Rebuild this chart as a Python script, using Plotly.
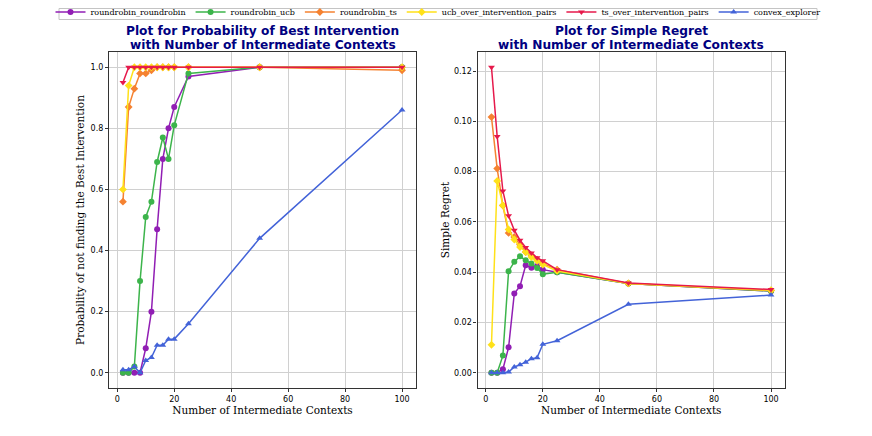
import plotly.graph_objects as go
from plotly.subplots import make_subplots

contexts = [2, 4, 6, 8, 10, 12, 14, 16, 18, 20, 25, 50, 100]

series_names = ["roundrobin_roundrobin", "roundrobin_ucb", "roundrobin_ts",
                "ucb_over_intervention_pairs", "ts_over_intervention_pairs", "convex_explorer"]

# probability of not finding the best intervention
prob_rr_rr = [0.0, 0.0, 0.0, 0.0, 0.08, 0.20, 0.47, 0.70, 0.80, 0.87, 0.97, 1.0, 1.0]
prob_rr_ucb = [0.0, 0.0, 0.02, 0.30, 0.51, 0.56, 0.69, 0.77, 0.70, 0.81, 0.98, 1.0, 1.0]
prob_rr_ts = [0.56, 0.87, 0.93, 0.98, 0.98, 0.99, 1.0, 1.0, 1.0, 1.0, 1.0, 1.0, 0.99]
prob_ucb_pairs = [0.60, 0.94, 1.0, 1.0, 1.0, 1.0, 1.0, 1.0, 1.0, 1.0, 1.0, 1.0, 1.0]
prob_ts_pairs = [0.95, 1.0, 1.0, 1.0, 1.0, 1.0, 1.0, 1.0, 1.0, 1.0, 1.0, 1.0, 1.0]
prob_convex = [0.01, 0.01, 0.02, 0.0, 0.04, 0.05, 0.09, 0.09, 0.11, 0.11, 0.16, 0.44, 0.86]

# simple regret
reg_rr_rr = [0.0, 0.0, 0.0014, 0.0101, 0.0315, 0.0344, 0.0427, 0.0418, 0.0425, 0.0410, 0.0400, 0.0355, 0.0325]
reg_rr_ucb = [0.0, 0.0, 0.0068, 0.0404, 0.0441, 0.0463, 0.0447, 0.0434, 0.0417, 0.0392, 0.0400, 0.0355, 0.0325]
reg_rr_ts = [0.1017, 0.0812, 0.0665, 0.0556, 0.0540, 0.0510, 0.0480, 0.0466, 0.0450, 0.0435, 0.0410, 0.0355, 0.0327]
reg_ucb_pairs = [0.0111, 0.0763, 0.0666, 0.0570, 0.0530, 0.0500, 0.0480, 0.0460, 0.0445, 0.0430, 0.0405, 0.0355, 0.0328]
reg_ts_pairs = [0.1215, 0.0940, 0.0723, 0.0624, 0.0567, 0.0527, 0.0498, 0.0476, 0.0457, 0.0445, 0.0410, 0.0357, 0.0331]
reg_convex = [0.0, 0.0, 0.0, 0.0003, 0.0023, 0.0032, 0.0042, 0.0056, 0.0060, 0.0113, 0.0127, 0.0272, 0.0309]

colors = ["#911eb4", "#3cb44b", "#f58231", "#ffe119", "#e6194b", "#4363d8"]
symbols = ["circle", "circle", "diamond", "diamond", "triangle-down", "triangle-up"]

prob_series = [prob_rr_rr, prob_rr_ucb, prob_rr_ts, prob_ucb_pairs, prob_ts_pairs, prob_convex]
reg_series = [reg_rr_rr, reg_rr_ucb, reg_rr_ts, reg_ucb_pairs, reg_ts_pairs, reg_convex]

# figure is drawn 8px in from the page corner, so work in figure pixels
W, H = 864, 428


def px_x(x):
    return x / W


def px_y(y):
    return 1 - y / H


fig = make_subplots(rows=1, cols=2)

for i, name in enumerate(series_names):
    for col, data in ((1, prob_series[i]), (2, reg_series[i])):
        fig.add_trace(go.Scatter(
            x=contexts, y=data, name=name, mode="lines+markers",
            line=dict(color=colors[i], width=1.5),
            marker=dict(symbol=symbols[i], size=6, color=colors[i]),
            legendgroup=name, showlegend=(col == 1),
        ), row=1, col=col)

axis_font = dict(family="DejaVu Serif", size=10.5, color="black")
tick_font = dict(family="DejaVu Sans", size=8, color="black")
common = dict(showline=True, mirror=True, linecolor="#333333", linewidth=1.2,
              showgrid=True, gridcolor="#d0d0d0", gridwidth=1, zeroline=False,
              ticks="outside", ticklen=3, tickcolor="#333333", tickfont=tick_font,
              automargin=False)

fig.update_xaxes(common)
fig.update_yaxes(common)

y_dom = [px_y(380), px_y(44)]
fig.update_xaxes(domain=[px_x(101), px_x(408)], range=[-2.9, 104.9], tickvals=[0, 20, 40, 60, 80, 100],
                 title=dict(text="Number of Intermediate Contexts", font=axis_font, standoff=2), row=1, col=1)
fig.update_xaxes(domain=[px_x(469.5), px_x(777)], range=[-2.9, 104.9], tickvals=[0, 20, 40, 60, 80, 100],
                 title=dict(text="Number of Intermediate Contexts", font=axis_font, standoff=2), row=1, col=2)
fig.update_yaxes(domain=y_dom, range=[-0.05, 1.05],
                 tickvals=[0, 0.2, 0.4, 0.6, 0.8, 1.0], tickformat=".1f",
                 title=dict(text="Probability of not finding the Best Intervention", font=axis_font, standoff=3),
                 row=1, col=1)
fig.update_yaxes(domain=y_dom, range=[-0.00608, 0.12758],
                 tickvals=[0, 0.02, 0.04, 0.06, 0.08, 0.10, 0.12], tickformat=".2f",
                 title=dict(text="Simple Regret", font=axis_font, standoff=2),
                 row=1, col=2)

title_font = dict(family="DejaVu Sans", size=12.2, color="#000080")
titles = [
    (254.5, "Plot for Probability of Best Intervention", "with Number of Intermediate Contexts"),
    (623, "Plot for Simple Regret", "with Number of Intermediate Contexts"),
]
for cx, line1, line2 in titles:
    for cy, txt in ((22.5, line1), (37, line2)):
        fig.add_annotation(text="<b>" + txt + "</b>", x=px_x(cx), y=px_y(cy), xref="paper", yref="paper",
                           xanchor="center", yanchor="middle", showarrow=False, font=title_font)

# legend frame
fig.add_shape(type="rect", xref="paper", yref="paper",
              x0=px_x(51), x1=px_x(809), y0=px_y(11.5), y1=px_y(0.5),
              line=dict(color="#c4c4c4", width=1), fillcolor="rgba(0,0,0,0)")

fig.update_layout(
    width=W, height=H,
    margin=dict(l=0, r=0, t=0, b=0, autoexpand=False),
    plot_bgcolor="white", paper_bgcolor="white",
    legend=dict(orientation="h", x=px_x(430), xanchor="center", y=px_y(-10.5), yanchor="top",
                font=dict(family="DejaVu Serif", size=8, color="black"),
                bgcolor="rgba(0,0,0,0)", borderwidth=0, itemwidth=30),
)

fig.write_html("out.html")
